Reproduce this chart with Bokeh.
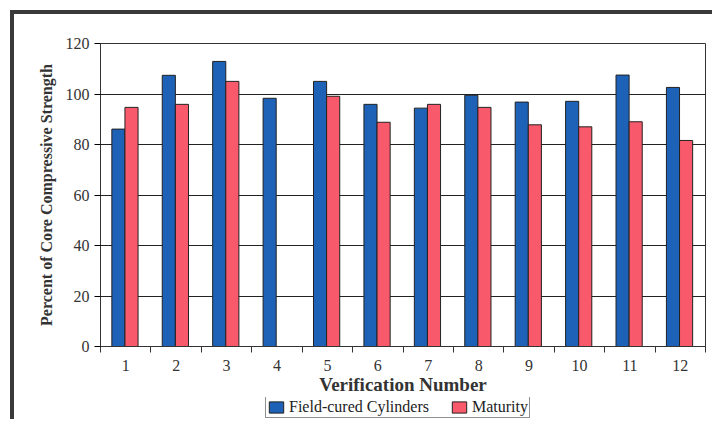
from bokeh.plotting import figure
from bokeh.layouts import column
from bokeh.models import ColumnDataSource, FixedTicker, Legend, LegendItem, Range1d
from bokeh.embed import file_html
from bokeh.resources import INLINE

verification = [1, 2, 3, 4, 5, 6, 7, 8, 9, 10, 11, 12]
field_cured = [86.1, 107.4, 112.9, 98.3, 105.0, 95.9, 94.4, 99.5, 96.8, 97.1, 107.5, 102.6]
maturity = [94.7, 95.9, 105.0, 0.0, 99.1, 88.8, 95.9, 94.7, 87.8, 87.0, 89.0, 81.6]
y_ticks = [0, 20, 40, 60, 80, 100, 120]
series_names = ["Field-cured Cylinders", "Maturity"]

FONT = "Liberation Serif"
BLUE = "#1d62b6"
PINK = "#f85a6c"
FRAME = "#3a3a3a"

src = ColumnDataSource(dict(
    xb=[v - 0.145 for v in verification],
    xr=[v + 0.115 for v in verification],
    fc=field_cured,
    mt=maturity,
))

p = figure(width=712, height=397, output_backend="svg", toolbar_location=None,
           x_range=Range1d(0.5, 12.5), y_range=Range1d(0, 120),
           min_border_left=100, min_border_right=7, min_border_top=43, min_border_bottom=51)

rb = p.vbar(x="xb", top="fc", width=0.26, source=src, fill_color=BLUE, line_color="#222222", line_width=1)
rr = p.vbar(x="xr", top="mt", width=0.26, source=src, fill_color=PINK, line_color="#222222", line_width=1)

p.outline_line_color = "#333333"
p.outline_line_width = 1
p.background_fill_color = "white"
p.border_fill_alpha = 0

p.xgrid.visible = False
p.ygrid.grid_line_color = "#222222"
p.ygrid.grid_line_width = 1
p.ygrid.ticker = FixedTicker(ticks=y_ticks)

p.yaxis.ticker = FixedTicker(ticks=y_ticks)
p.yaxis.axis_label = "Percent of Core Compressive Strength"
p.yaxis.axis_label_text_font = FONT
p.yaxis.axis_label_text_font_style = "bold"
p.yaxis.axis_label_text_font_size = "16px"
p.yaxis.axis_label_text_color = "#333333"
p.yaxis.axis_label_standoff = 8
p.yaxis.major_label_text_font = FONT
p.yaxis.major_label_text_font_size = "16px"
p.yaxis.major_label_text_color = "#333333"
p.yaxis.major_tick_in = 0
p.yaxis.major_tick_out = 6
p.yaxis.minor_tick_line_color = None
p.yaxis.axis_line_color = "#333333"

p.xaxis.ticker = FixedTicker(ticks=verification,
                             minor_ticks=[v - 0.5 for v in verification] + [12.5])
p.xaxis.axis_label = "Verification Number"
p.xaxis.axis_label_text_font = FONT
p.xaxis.axis_label_text_font_style = "bold"
p.xaxis.axis_label_text_font_size = "19px"
p.xaxis.axis_label_text_color = "#333333"
p.xaxis.axis_label_standoff = 0
p.xaxis.major_label_text_font = FONT
p.xaxis.major_label_text_font_size = "16px"
p.xaxis.major_label_text_color = "#333333"
p.xaxis.major_label_standoff = 7
p.xaxis.major_tick_in = 0
p.xaxis.major_tick_out = 0
p.xaxis.minor_tick_in = 0
p.xaxis.minor_tick_out = 6
p.xaxis.minor_tick_line_color = "#333333"
p.xaxis.axis_line_color = "#333333"

p.styles = {"background-color": "white",
            "box-shadow": f"inset 10px 10px 0 0 white, inset 14px 14px 0 0 {FRAME}"}

# legend strip below the chart: same series, but the y range is far away so no bars show here
q = figure(width=712, height=22, output_backend="svg", toolbar_location=None,
           x_range=Range1d(0.5, 12.5), y_range=Range1d(1000, 1001),
           x_axis_location=None, y_axis_location=None,
           min_border_left=0, min_border_right=0, min_border_top=0, min_border_bottom=0)
q.grid.visible = False
q.outline_line_color = None
q.background_fill_alpha = 0
q.border_fill_alpha = 0
lb = q.vbar(x="xb", top="fc", width=0.26, source=src, fill_color=BLUE, line_color="#222222", line_width=1)
lr = q.vbar(x="xr", top="mt", width=0.26, source=src, fill_color=PINK, line_color="#222222", line_width=1)

legend = Legend(items=[LegendItem(label=series_names[0], renderers=[lb]),
                       LegendItem(label=series_names[1], renderers=[lr])],
                orientation="horizontal", location=(165, 1))
legend.label_text_font = FONT
legend.label_text_font_size = "16px"
legend.label_text_color = "#222222"
legend.border_line_color = "#222222"
legend.border_line_width = 1
legend.background_fill_color = "white"
legend.padding = 1
legend.spacing = 21
legend.margin = 0
legend.glyph_width = 18
legend.glyph_height = 14
legend.label_standoff = 4
legend.label_height = 14
q.add_layout(legend, "center")
q.styles = {"background-color": "white",
            "box-shadow": f"inset 10px 0 0 0 white, inset 14px 0 0 0 {FRAME}"}

layout = column(p, q, spacing=0)
open("out.html", "w").write(file_html(layout, INLINE))
